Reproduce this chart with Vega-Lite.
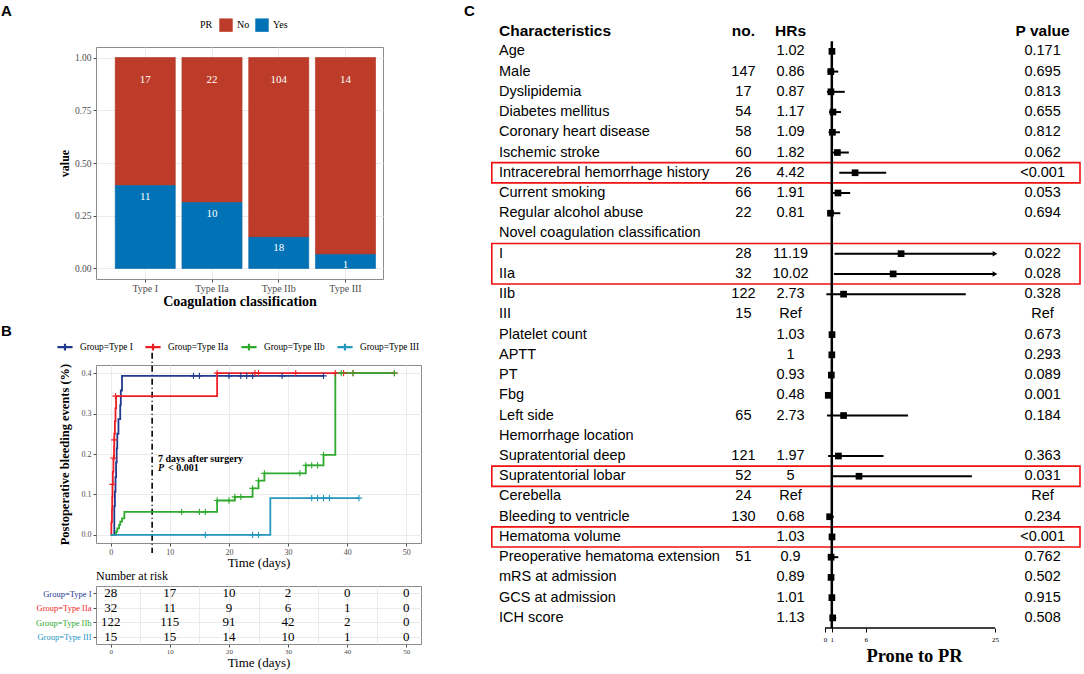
{
  "$schema": "https://vega.github.io/schema/vega-lite/v6.json",
  "background": "white",
  "padding": {"left": 0, "top": 4, "right": 0, "bottom": 0},
  "config": {
    "font": "Liberation Serif",
    "view": {"stroke": "#8C8C8C", "strokeWidth": 1},
    "axis": {"labelFont": "Liberation Serif", "titleFont": "Liberation Serif", "labelColor": "#4D4D4D", "tickColor": "#4D4D4D", "domain": false, "gridColor": "#EBEBEB", "titleColor": "black"},
    "legend": {"labelFont": "Liberation Serif", "titleFont": "Liberation Serif"},
    "title": {"font": "Liberation Sans", "fontSize": 15, "fontWeight": "bold", "anchor": "start", "frame": "group", "color": "black"}
  },
  "datasets": {
    "coag": [
      {"type": "Type I", "PR": "No", "n": 17}, {"type": "Type I", "PR": "Yes", "n": 11},
      {"type": "Type IIa", "PR": "No", "n": 22}, {"type": "Type IIa", "PR": "Yes", "n": 10},
      {"type": "Type IIb", "PR": "No", "n": 104}, {"type": "Type IIb", "PR": "Yes", "n": 18},
      {"type": "Type III", "PR": "No", "n": 14}, {"type": "Type III", "PR": "Yes", "n": 1}
    ],
    "km": [
      {"group": "Group=Type I", "t": 0, "s": 0}, {"group": "Group=Type I", "t": 0.6, "s": 0.071}, {"group": "Group=Type I", "t": 0.7, "s": 0.107}, {"group": "Group=Type I", "t": 0.8, "s": 0.143}, {"group": "Group=Type I", "t": 0.9, "s": 0.179}, {"group": "Group=Type I", "t": 1.0, "s": 0.214}, {"group": "Group=Type I", "t": 1.1, "s": 0.25}, {"group": "Group=Type I", "t": 1.3, "s": 0.286}, {"group": "Group=Type I", "t": 1.6, "s": 0.321}, {"group": "Group=Type I", "t": 1.7, "s": 0.357}, {"group": "Group=Type I", "t": 1.9, "s": 0.393}, {"group": "Group=Type I", "t": 36, "s": 0.393},
      {"group": "Group=Type IIa", "t": 0, "s": 0}, {"group": "Group=Type IIa", "t": 0.1, "s": 0.031}, {"group": "Group=Type IIa", "t": 0.2, "s": 0.063}, {"group": "Group=Type IIa", "t": 0.25, "s": 0.094}, {"group": "Group=Type IIa", "t": 0.3, "s": 0.125}, {"group": "Group=Type IIa", "t": 0.35, "s": 0.156}, {"group": "Group=Type IIa", "t": 0.45, "s": 0.188}, {"group": "Group=Type IIa", "t": 0.55, "s": 0.219}, {"group": "Group=Type IIa", "t": 0.6, "s": 0.25}, {"group": "Group=Type IIa", "t": 0.7, "s": 0.281}, {"group": "Group=Type IIa", "t": 0.8, "s": 0.313}, {"group": "Group=Type IIa", "t": 0.9, "s": 0.343}, {"group": "Group=Type IIa", "t": 18, "s": 0.4}, {"group": "Group=Type IIa", "t": 48, "s": 0.4},
      {"group": "Group=Type IIb", "t": 0, "s": 0}, {"group": "Group=Type IIb", "t": 0.9, "s": 0.008}, {"group": "Group=Type IIb", "t": 1.1, "s": 0.016}, {"group": "Group=Type IIb", "t": 1.4, "s": 0.025}, {"group": "Group=Type IIb", "t": 1.6, "s": 0.033}, {"group": "Group=Type IIb", "t": 1.9, "s": 0.041}, {"group": "Group=Type IIb", "t": 2.3, "s": 0.057}, {"group": "Group=Type IIb", "t": 18, "s": 0.085}, {"group": "Group=Type IIb", "t": 21, "s": 0.094}, {"group": "Group=Type IIb", "t": 24, "s": 0.115}, {"group": "Group=Type IIb", "t": 25, "s": 0.134}, {"group": "Group=Type IIb", "t": 26, "s": 0.152}, {"group": "Group=Type IIb", "t": 33, "s": 0.172}, {"group": "Group=Type IIb", "t": 36, "s": 0.198}, {"group": "Group=Type IIb", "t": 38, "s": 0.4}, {"group": "Group=Type IIb", "t": 48, "s": 0.4},
      {"group": "Group=Type III", "t": 0, "s": 0}, {"group": "Group=Type III", "t": 27, "s": 0.091}, {"group": "Group=Type III", "t": 42, "s": 0.091}
    ],
    "cens": [
      {"group": "Group=Type I", "t": 14, "s": 0.393}, {"group": "Group=Type I", "t": 15, "s": 0.393}, {"group": "Group=Type I", "t": 20, "s": 0.393}, {"group": "Group=Type I", "t": 22, "s": 0.393}, {"group": "Group=Type I", "t": 23, "s": 0.393}, {"group": "Group=Type I", "t": 24, "s": 0.393}, {"group": "Group=Type I", "t": 29, "s": 0.393}, {"group": "Group=Type I", "t": 36, "s": 0.393},
      {"group": "Group=Type IIa", "t": 0.3, "s": 0.125}, {"group": "Group=Type IIa", "t": 0.45, "s": 0.19}, {"group": "Group=Type IIa", "t": 0.6, "s": 0.235}, {"group": "Group=Type IIa", "t": 0.8, "s": 0.343}, {"group": "Group=Type IIa", "t": 18, "s": 0.4}, {"group": "Group=Type IIa", "t": 24.4, "s": 0.4}, {"group": "Group=Type IIa", "t": 25, "s": 0.4}, {"group": "Group=Type IIa", "t": 31.3, "s": 0.4}, {"group": "Group=Type IIa", "t": 38, "s": 0.4}, {"group": "Group=Type IIa", "t": 39.4, "s": 0.4}, {"group": "Group=Type IIa", "t": 41, "s": 0.4}, {"group": "Group=Type IIa", "t": 48, "s": 0.4},
      {"group": "Group=Type IIb", "t": 12, "s": 0.057}, {"group": "Group=Type IIb", "t": 15, "s": 0.057}, {"group": "Group=Type IIb", "t": 16, "s": 0.057}, {"group": "Group=Type IIb", "t": 18, "s": 0.085}, {"group": "Group=Type IIb", "t": 20, "s": 0.085}, {"group": "Group=Type IIb", "t": 21, "s": 0.094}, {"group": "Group=Type IIb", "t": 22, "s": 0.094}, {"group": "Group=Type IIb", "t": 24, "s": 0.115}, {"group": "Group=Type IIb", "t": 25, "s": 0.134}, {"group": "Group=Type IIb", "t": 26, "s": 0.152}, {"group": "Group=Type IIb", "t": 32, "s": 0.152}, {"group": "Group=Type IIb", "t": 33, "s": 0.172}, {"group": "Group=Type IIb", "t": 34, "s": 0.172}, {"group": "Group=Type IIb", "t": 35, "s": 0.172}, {"group": "Group=Type IIb", "t": 36, "s": 0.198}, {"group": "Group=Type IIb", "t": 39, "s": 0.4}, {"group": "Group=Type IIb", "t": 41, "s": 0.4}, {"group": "Group=Type IIb", "t": 48, "s": 0.4},
      {"group": "Group=Type III", "t": 16, "s": 0}, {"group": "Group=Type III", "t": 24, "s": 0}, {"group": "Group=Type III", "t": 25, "s": 0}, {"group": "Group=Type III", "t": 34, "s": 0.091}, {"group": "Group=Type III", "t": 35, "s": 0.091}, {"group": "Group=Type III", "t": 36, "s": 0.091}, {"group": "Group=Type III", "t": 37, "s": 0.091}, {"group": "Group=Type III", "t": 42, "s": 0.091}
    ],
    "risk": [
      {"group": "Group=Type I", "t": 0, "n": 28}, {"group": "Group=Type I", "t": 10, "n": 17}, {"group": "Group=Type I", "t": 20, "n": 10}, {"group": "Group=Type I", "t": 30, "n": 2}, {"group": "Group=Type I", "t": 40, "n": 0}, {"group": "Group=Type I", "t": 50, "n": 0},
      {"group": "Group=Type IIa", "t": 0, "n": 32}, {"group": "Group=Type IIa", "t": 10, "n": 11}, {"group": "Group=Type IIa", "t": 20, "n": 9}, {"group": "Group=Type IIa", "t": 30, "n": 6}, {"group": "Group=Type IIa", "t": 40, "n": 1}, {"group": "Group=Type IIa", "t": 50, "n": 0},
      {"group": "Group=Type IIb", "t": 0, "n": 122}, {"group": "Group=Type IIb", "t": 10, "n": 115}, {"group": "Group=Type IIb", "t": 20, "n": 91}, {"group": "Group=Type IIb", "t": 30, "n": 42}, {"group": "Group=Type IIb", "t": 40, "n": 2}, {"group": "Group=Type IIb", "t": 50, "n": 0},
      {"group": "Group=Type III", "t": 0, "n": 15}, {"group": "Group=Type III", "t": 10, "n": 15}, {"group": "Group=Type III", "t": 20, "n": 14}, {"group": "Group=Type III", "t": 30, "n": 10}, {"group": "Group=Type III", "t": 40, "n": 1}, {"group": "Group=Type III", "t": 50, "n": 0}
    ],
    "forest": [
      {"item": "Characteristics", "no": "no.", "hr": "HRs", "p": "P value", "est": null, "lo": null, "hi": null},
      {"item": "Age", "no": "", "hr": "1.02", "p": "0.171", "est": 1.02, "lo": 0.99, "hi": 1.05},
      {"item": "Male", "no": "147", "hr": "0.86", "p": "0.695", "est": 0.86, "lo": 0.35, "hi": 1.95},
      {"item": "Dyslipidemia", "no": "17", "hr": "0.87", "p": "0.813", "est": 0.87, "lo": 0.28, "hi": 2.9},
      {"item": "Diabetes mellitus", "no": "54", "hr": "1.17", "p": "0.655", "est": 1.17, "lo": 0.58, "hi": 2.35},
      {"item": "Coronary heart disease", "no": "58", "hr": "1.09", "p": "0.812", "est": 1.09, "lo": 0.52, "hi": 2.2},
      {"item": "Ischemic stroke", "no": "60", "hr": "1.82", "p": "0.062", "est": 1.82, "lo": 0.98, "hi": 3.5},
      {"item": "Intracerebral hemorrhage history", "no": "26", "hr": "4.42", "p": "<0.001", "est": 4.42, "lo": 2.1, "hi": 9.0},
      {"item": "Current smoking", "no": "66", "hr": "1.91", "p": "0.053", "est": 1.91, "lo": 0.99, "hi": 3.7},
      {"item": "Regular alcohol abuse", "no": "22", "hr": "0.81", "p": "0.694", "est": 0.81, "lo": 0.35, "hi": 2.25},
      {"item": "Novel coagulation classification", "no": "", "hr": "", "p": "", "est": null, "lo": null, "hi": null},
      {"item": "I", "no": "28", "hr": "11.19", "p": "0.022", "est": 11.19, "lo": 1.4, "hi": 25},
      {"item": "IIa", "no": "32", "hr": "10.02", "p": "0.028", "est": 10.02, "lo": 1.3, "hi": 25},
      {"item": "IIb", "no": "122", "hr": "2.73", "p": "0.328", "est": 2.73, "lo": 0.2, "hi": 20.7},
      {"item": "III", "no": "15", "hr": "Ref", "p": "Ref", "est": null, "lo": null, "hi": null},
      {"item": "Platelet count", "no": "", "hr": "1.03", "p": "0.673", "est": 1.03, "lo": 0.99, "hi": 1.07},
      {"item": "APTT", "no": "", "hr": "1", "p": "0.293", "est": 1.0, "lo": 0.99, "hi": 1.02},
      {"item": "PT", "no": "", "hr": "0.93", "p": "0.089", "est": 0.93, "lo": 0.86, "hi": 1.01},
      {"item": "Fbg", "no": "", "hr": "0.48", "p": "0.001", "est": 0.48, "lo": 0.31, "hi": 0.74},
      {"item": "Left side", "no": "65", "hr": "2.73", "p": "0.184", "est": 2.73, "lo": 0.3, "hi": 12.2},
      {"item": "Hemorrhage location", "no": "", "hr": "", "p": "", "est": null, "lo": null, "hi": null},
      {"item": "Supratentorial deep", "no": "121", "hr": "1.97", "p": "0.363", "est": 1.97, "lo": 0.46, "hi": 8.6},
      {"item": "Supratentorial lobar", "no": "52", "hr": "5", "p": "0.031", "est": 5, "lo": 1.16, "hi": 21.6},
      {"item": "Cerebella", "no": "24", "hr": "Ref", "p": "Ref", "est": null, "lo": null, "hi": null},
      {"item": "Bleeding to ventricle", "no": "130", "hr": "0.68", "p": "0.234", "est": 0.68, "lo": 0.36, "hi": 1.3},
      {"item": "Hematoma volume", "no": "", "hr": "1.03", "p": "<0.001", "est": 1.03, "lo": 1.02, "hi": 1.05},
      {"item": "Preoperative hematoma extension", "no": "51", "hr": "0.9", "p": "0.762", "est": 0.9, "lo": 0.42, "hi": 1.95},
      {"item": "mRS at admission", "no": "", "hr": "0.89", "p": "0.502", "est": 0.89, "lo": 0.62, "hi": 1.27},
      {"item": "GCS at admission", "no": "", "hr": "1.01", "p": "0.915", "est": 1.01, "lo": 0.88, "hi": 1.15},
      {"item": "ICH score", "no": "", "hr": "1.13", "p": "0.508", "est": 1.13, "lo": 0.78, "hi": 1.65}
    ],
    "boxes": [
      {"from": "Intracerebral hemorrhage history", "to": "Current smoking"},
      {"from": "I", "to": "IIb"},
      {"from": "Supratentorial lobar", "to": "Cerebella"},
      {"from": "Hematoma volume", "to": "Preoperative hematoma extension"}
    ]
  },
  "spacing": 42,
  "resolve": {"scale": {"color": "independent", "stroke": "independent"}, "legend": {"color": "independent", "stroke": "independent"}},
  "hconcat": [
    {
      "spacing": -5,
      "resolve": {"scale": {"color": "independent", "stroke": "independent"}, "legend": {"color": "independent", "stroke": "independent"}},
      "vconcat": [
        {"data": {"values": []}, "mark": {"type": "point", "opacity": 0}, "width": 1, "height": 1, "view": {"stroke": null},
          "title": {"text": "A", "dx": -95, "offset": 2}},
        {
          "spacing": 14,
          "resolve": {"scale": {"color": "independent", "stroke": "independent"}, "legend": {"color": "independent", "stroke": "independent"}},
          "vconcat": [
            {
              "width": 287,
              "height": 232,
              "data": {"name": "coag"},
              "layer": [
                {
                  "mark": {"type": "bar", "strokeWidth": 0.6},
                  "encoding": {
                    "x": {"field": "type", "type": "nominal", "sort": ["Type I", "Type IIa", "Type IIb", "Type III"],
                      "scale": {"paddingInner": 0.1, "paddingOuter": 0.2, "align": 0.72},
                      "axis": {"title": "Coagulation classification", "titleFontSize": 14, "titleFontWeight": "bold", "labelFontSize": 10, "labelAngle": 0, "tickSize": 3, "labelPadding": 1, "titlePadding": 1, "grid": true, "bandPosition": 0.5}},
                    "y": {"field": "n", "type": "quantitative", "stack": "normalize",
                      "scale": {"domain": [-0.05, 1.05], "nice": false, "zero": false},
                      "axis": {"title": "value", "titleFontSize": 12, "titleFontWeight": "bold", "labelFontSize": 9.5, "tickSize": 3, "labelPadding": 2, "titlePadding": 3,
                        "values": [0, 0.125, 0.25, 0.375, 0.5, 0.625, 0.75, 0.875, 1],
                        "labelExpr": "(datum.value * 4) % 1 != 0 ? '' : format(datum.value, '.2f')",
                        "tickOpacity": {"condition": {"test": "(datum.value * 4) % 1 != 0", "value": 0}, "value": 1}}},
                    "color": {"field": "PR", "type": "nominal", "scale": {"domain": ["No", "Yes"], "range": ["#BC3C29", "#0072B5"]},
                      "legend": {"orient": "none", "legendX": 104, "legendY": -29, "direction": "horizontal", "title": "PR", "titleOrient": "left", "titleFontSize": 10, "titleFontWeight": "normal", "titleBaseline": "middle", "titlePadding": 6, "labelFontSize": 10, "symbolType": "square", "symbolSize": 180, "symbolStrokeWidth": 0, "symbolOpacity": 1, "columnPadding": 5, "labelOffset": 4}},
                    "stroke": {"field": "PR", "type": "nominal", "scale": {"domain": ["No", "Yes"], "range": ["#B03020", "#0068A8"]}, "legend": null},
                    "order": {"field": "PR", "sort": "descending"}
                  }
                },
                {
                  "transform": [
                    {"stack": "n", "groupby": ["type"], "offset": "normalize", "sort": [{"field": "PR", "order": "descending"}], "as": ["y0", "y1"]},
                    {"filter": "datum.PR == 'No'"}
                  ],
                  "mark": {"type": "text", "color": "white", "font": "Liberation Serif", "fontSize": 11, "baseline": "middle", "dy": 22},
                  "encoding": {
                    "x": {"field": "type", "type": "nominal", "sort": ["Type I", "Type IIa", "Type IIb", "Type III"]},
                    "y": {"field": "y1", "type": "quantitative"},
                    "text": {"field": "n", "type": "quantitative"}
                  }
                },
                {
                  "transform": [
                    {"stack": "n", "groupby": ["type"], "offset": "normalize", "sort": [{"field": "PR", "order": "descending"}], "as": ["y0", "y1"]},
                    {"filter": "datum.PR == 'Yes'"}
                  ],
                  "mark": {"type": "text", "color": "white", "font": "Liberation Serif", "fontSize": 11, "baseline": "middle", "dy": 11},
                  "encoding": {
                    "x": {"field": "type", "type": "nominal", "sort": ["Type I", "Type IIa", "Type IIb", "Type III"]},
                    "y": {"field": "y1", "type": "quantitative"},
                    "text": {"field": "n", "type": "quantitative"}
                  }
                }
              ]
            },
            {
              "spacing": -1,
              "resolve": {"scale": {"color": "independent"}, "legend": {"color": "independent"}},
              "vconcat": [
                {
                  "width": 325,
                  "height": 178,
                  "title": {"text": "B", "dx": -95, "offset": -1},
                  "layer": [
                    {
                      "data": {"values": [{}]},
                      "mark": {"type": "rule", "strokeDash": [6, 3, 1, 3], "strokeWidth": 1.6, "color": "black", "clip": false},
                      "encoding": {"x": {"datum": 7, "type": "quantitative"}, "y": {"datum": 0.45, "type": "quantitative"}, "y2": {"datum": -0.045}}
                    },
                    {
                      "data": {"name": "km"},
                      "mark": {"type": "line", "interpolate": "step-after", "strokeWidth": 1.8},
                      "encoding": {
                        "x": {"field": "t", "type": "quantitative",
                          "scale": {"domain": [-2.5, 52.5], "nice": false, "zero": false},
                          "axis": {"title": "Time (days)", "titleFontSize": 13, "titleFontWeight": "normal", "labelFontSize": 8, "tickSize": 3, "labelPadding": 2, "titlePadding": 0, "grid": true,
                            "values": [0, 5, 10, 15, 20, 25, 30, 35, 40, 45, 50],
                            "labelExpr": "datum.value % 10 != 0 ? '' : datum.label",
                            "tickOpacity": {"condition": {"test": "datum.value % 10 != 0", "value": 0}, "value": 1}}},
                        "y": {"field": "s", "type": "quantitative",
                          "scale": {"domain": [-0.02, 0.42], "nice": false, "zero": false},
                          "axis": {"title": "Postoperative bleeding events (%)", "titleFontSize": 12.5, "titleFontWeight": "bold", "labelFontSize": 8, "tickSize": 3, "labelPadding": 2, "titlePadding": 10, "grid": true,
                            "values": [0, 0.05, 0.1, 0.15, 0.2, 0.25, 0.3, 0.35, 0.4],
                            "labelExpr": "abs(datum.value * 10 - round(datum.value * 10)) > 0.01 ? '' : format(datum.value, '.1f')",
                            "tickOpacity": {"condition": {"test": "abs(datum.value * 10 - round(datum.value * 10)) > 0.01", "value": 0}, "value": 1}}},
                        "color": {"field": "group", "type": "nominal",
                          "scale": {"domain": ["Group=Type I", "Group=Type IIa", "Group=Type IIb", "Group=Type III"], "range": ["#21398E", "#EE1D23", "#2EAA2E", "#2697BF"]},
                          "legend": {"orient": "none", "legendX": -40, "legendY": -27, "direction": "horizontal", "title": null, "labelFontSize": 9.3, "symbolType": "M-1,0L1,0M0,-0.45L0,0.45", "symbolSize": 230, "symbolStrokeWidth": 2.2, "symbolFillColor": "transparent", "columnPadding": 8, "labelOffset": 6}}
                      }
                    },
                    {
                      "data": {"name": "cens"},
                      "mark": {"type": "point", "shape": "M0,-1L0,1M-1,0L1,0", "filled": false, "size": 40, "strokeWidth": 1.1, "opacity": 1},
                      "encoding": {
                        "x": {"field": "t", "type": "quantitative"},
                        "y": {"field": "s", "type": "quantitative"},
                        "color": {"field": "group", "type": "nominal"}
                      }
                    },
                    {
                      "data": {"values": [{"label": "7 days after surgery"}]},
                      "mark": {"type": "text", "align": "left", "baseline": "middle", "font": "Liberation Serif", "fontSize": 10, "fontWeight": "bold"},
                      "encoding": {"x": {"datum": 8}, "y": {"datum": 0.188}, "text": {"field": "label"}}
                    },
                    {
                      "data": {"values": [{"label": "P"}]},
                      "mark": {"type": "text", "align": "left", "baseline": "middle", "font": "Liberation Serif", "fontSize": 10, "fontWeight": "bold", "fontStyle": "italic"},
                      "encoding": {"x": {"datum": 8}, "y": {"datum": 0.166}, "text": {"field": "label"}}
                    },
                    {
                      "data": {"values": [{"label": "< 0.001"}]},
                      "mark": {"type": "text", "align": "left", "baseline": "middle", "font": "Liberation Serif", "fontSize": 10, "fontWeight": "bold", "dx": 10},
                      "encoding": {"x": {"datum": 8}, "y": {"datum": 0.166}, "text": {"field": "label"}}
                    }
                  ]
                },
                {
                  "width": 325,
                  "height": 58,
                  "title": {"text": "Number at risk", "font": "Liberation Serif", "fontSize": 12, "fontWeight": "normal", "offset": 3},
                  "data": {"name": "risk"},
                  "mark": {"type": "text", "font": "Liberation Serif", "fontSize": 13, "baseline": "middle"},
                  "encoding": {
                    "x": {"field": "t", "type": "quantitative",
                      "scale": {"domain": [-2.5, 52.5], "nice": false, "zero": false},
                      "axis": {"title": "Time (days)", "titleFontSize": 13, "titleFontWeight": "normal", "labelFontSize": 7, "tickSize": 3, "labelPadding": 0, "titlePadding": 2, "grid": true,
                        "values": [0, 5, 10, 15, 20, 25, 30, 35, 40, 45, 50],
                        "labelExpr": "datum.value % 10 != 0 ? '' : datum.label",
                        "tickOpacity": {"condition": {"test": "datum.value % 10 != 0", "value": 0}, "value": 1}}},
                    "y": {"field": "group", "type": "nominal",
                      "scale": {"domain": ["Group=Type I", "Group=Type IIa", "Group=Type IIb", "Group=Type III"], "paddingInner": 0, "paddingOuter": 0.02},
                      "axis": {"title": null, "labelFontSize": 8.5, "tickSize": 3, "labelPadding": 2, "grid": true,
                        "labelColor": {"condition": [
                          {"test": "datum.value == 'Group=Type I'", "value": "#21398E"},
                          {"test": "datum.value == 'Group=Type IIa'", "value": "#EE1D23"},
                          {"test": "datum.value == 'Group=Type IIb'", "value": "#2EAA2E"}], "value": "#2697BF"}}},
                    "text": {"field": "n", "type": "quantitative"}
                  }
                }
              ]
            }
          ]
        }
      ]
    },
    {
      "width": 589,
      "height": 607,
      "view": {"stroke": null},
      "title": {"text": "C", "dx": -27, "offset": 2},
      "data": {"name": "forest"},
      "resolve": {"axis": {"x": "independent"}},
      "encoding": {
        "y": {"field": "item", "type": "nominal", "axis": null,
          "scale": {"domain": ["Characteristics", "Age", "Male", "Dyslipidemia", "Diabetes mellitus", "Coronary heart disease", "Ischemic stroke", "Intracerebral hemorrhage history", "Current smoking", "Regular alcohol abuse", "Novel coagulation classification", "I", "IIa", "IIb", "III", "Platelet count", "APTT", "PT", "Fbg", "Left side", "Hemorrhage location", "Supratentorial deep", "Supratentorial lobar", "Cerebella", "Bleeding to ventricle", "Hematoma volume", "Preoperative hematoma extension", "mRS at admission", "GCS at admission", "ICH score"], "paddingInner": 0, "paddingOuter": 0}}
      },
      "layer": [
        {
          "data": {"name": "boxes"},
          "mark": {"type": "rect", "fill": "transparent", "stroke": "#F01010", "strokeWidth": 1.6},
          "encoding": {
            "x": {"datum": -49.0, "type": "quantitative", "axis": null},
            "x2": {"datum": 37.5},
            "y": {"field": "from", "type": "nominal", "bandPosition": 0},
            "y2": {"field": "to", "bandPosition": 0}
          }
        },
        {
          "data": {"values": [{}]},
          "mark": {"type": "rule", "color": "black", "strokeWidth": 2.5},
          "encoding": {
            "x": {"datum": 1, "type": "quantitative", "axis": null},
            "y": {"datum": "Age", "type": "nominal", "bandPosition": 0},
            "y2": {"datum": "ICH score", "bandPosition": 1}
          }
        },
        {
          "data": {"values": [{}]},
          "mark": {"type": "rule", "color": "black", "strokeWidth": 1.3},
          "encoding": {
            "x": {"datum": 0, "type": "quantitative", "axis": null},
            "x2": {"datum": 25},
            "y": {"datum": "ICH score", "type": "nominal", "bandPosition": 1}
          }
        },
        {
          "transform": [{"filter": "isValid(datum.lo)"}],
          "mark": {"type": "rule", "color": "black", "strokeWidth": 2},
          "encoding": {
            "x": {"field": "lo", "type": "quantitative",
              "scale": {"domain": [-49.12, 37.5], "nice": false, "zero": false},
              "axis": {"title": "Prone to PR", "titleFont": "Liberation Serif", "titleFontSize": 18.5, "titleFontWeight": "bold", "titleColor": "black", "titleX": 423, "titlePadding": 4,
                "values": [0, 1, 6, 25], "labelFontSize": 7, "labelColor": "black", "tickColor": "black", "tickSize": 4, "labelPadding": 3, "labelOverlap": false, "labelFlush": false, "grid": false, "domain": false}},
            "x2": {"field": "hi"}
          }
        },
        {
          "transform": [{"filter": "datum.hi >= 25"}],
          "mark": {"type": "point", "shape": "triangle-right", "filled": true, "color": "black", "size": 30, "opacity": 1},
          "encoding": {"x": {"field": "hi", "type": "quantitative", "axis": null}}
        },
        {
          "transform": [{"filter": "isValid(datum.est)"}],
          "mark": {"type": "point", "shape": "square", "filled": true, "color": "black", "size": 45, "opacity": 1},
          "encoding": {"x": {"field": "est", "type": "quantitative", "axis": null}}
        },
        {
          "transform": [{"filter": "datum.item != 'Characteristics'"}],
          "mark": {"type": "text", "align": "left", "baseline": "middle", "font": "Liberation Sans", "fontSize": 14.5, "color": "black"},
          "encoding": {"x": {"datum": -47.94, "type": "quantitative", "axis": null}, "text": {"field": "item"}}
        },
        {
          "transform": [{"filter": "datum.item != 'Characteristics'"}],
          "mark": {"type": "text", "align": "center", "baseline": "middle", "font": "Liberation Sans", "fontSize": 14.5, "color": "black"},
          "encoding": {"x": {"datum": -12, "type": "quantitative", "axis": null}, "text": {"field": "no"}}
        },
        {
          "transform": [{"filter": "datum.item != 'Characteristics'"}],
          "mark": {"type": "text", "align": "center", "baseline": "middle", "font": "Liberation Sans", "fontSize": 14.5, "color": "black"},
          "encoding": {"x": {"datum": -5.07, "type": "quantitative", "axis": null}, "text": {"field": "hr"}}
        },
        {
          "transform": [{"filter": "datum.item != 'Characteristics'"}],
          "mark": {"type": "text", "align": "center", "baseline": "middle", "font": "Liberation Sans", "fontSize": 14.5, "color": "black"},
          "encoding": {"x": {"datum": 32, "type": "quantitative", "axis": null}, "text": {"field": "p"}}
        },
        {
          "transform": [{"filter": "datum.item == 'Characteristics'"}],
          "mark": {"type": "text", "align": "left", "baseline": "middle", "font": "Liberation Sans", "fontSize": 15.5, "fontWeight": "bold", "color": "black"},
          "encoding": {"x": {"datum": -47.94, "type": "quantitative", "axis": null}, "text": {"field": "item"}}
        },
        {
          "transform": [{"filter": "datum.item == 'Characteristics'"}],
          "mark": {"type": "text", "align": "center", "baseline": "middle", "font": "Liberation Sans", "fontSize": 15.5, "fontWeight": "bold", "color": "black"},
          "encoding": {"x": {"datum": -12, "type": "quantitative", "axis": null}, "text": {"field": "no"}}
        },
        {
          "transform": [{"filter": "datum.item == 'Characteristics'"}],
          "mark": {"type": "text", "align": "center", "baseline": "middle", "font": "Liberation Sans", "fontSize": 15.5, "fontWeight": "bold", "color": "black"},
          "encoding": {"x": {"datum": -5.07, "type": "quantitative", "axis": null}, "text": {"field": "hr"}}
        },
        {
          "transform": [{"filter": "datum.item == 'Characteristics'"}],
          "mark": {"type": "text", "align": "center", "baseline": "middle", "font": "Liberation Sans", "fontSize": 15.5, "fontWeight": "bold", "color": "black"},
          "encoding": {"x": {"datum": 32, "type": "quantitative", "axis": null}, "text": {"field": "p"}}
        }
      ]
    }
  ]
}
